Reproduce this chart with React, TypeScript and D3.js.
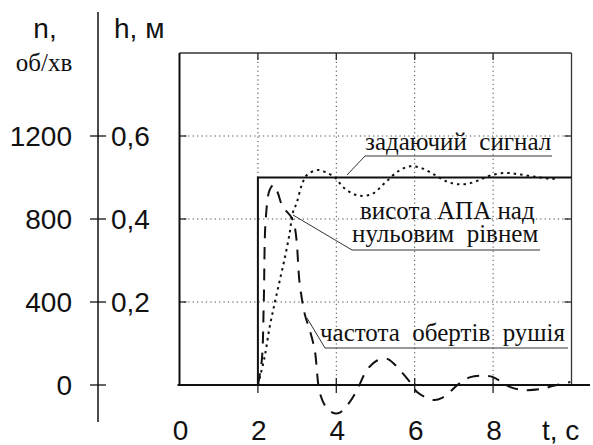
import React from "react";
import * as d3 from "d3";

// Time axis, s
const timeTicks = [0, 2, 4, 6, 8];
// Height axis (м) and revolution axis (об/хв) share the same vertical scale
const heightTicks = [0.2, 0.4, 0.6];
const heightTickLabels = ["0,2", "0,4", "0,6"];
const revTicks = [0, 400, 800, 1200];

// Reference (setpoint) signal, м
const setT = [0, 2, 2, 10];
const setH = [0, 0, 0.5, 0.5];

// Height of the vehicle above zero level, м
const heightT = [2.0, 2.17, 2.3, 2.43, 2.56, 2.69, 2.81, 2.89, 2.99, 3.12, 3.25, 3.53, 3.76, 3.98, 4.17, 4.4, 4.6, 4.91, 5.24, 5.58, 5.88, 6.19, 6.5, 6.8, 7.08, 7.4, 7.7, 7.93, 8.31, 8.7, 9.13, 9.46, 9.6];
const heightH = [0, 0.067, 0.14, 0.198, 0.253, 0.308, 0.366, 0.415, 0.439, 0.482, 0.506, 0.518, 0.511, 0.499, 0.477, 0.462, 0.456, 0.46, 0.487, 0.515, 0.527, 0.522, 0.507, 0.491, 0.484, 0.486, 0.496, 0.505, 0.511, 0.507, 0.501, 0.497, 0.497];

// Propeller revolution frequency, об/хв
const revT = [2.0, 2.1, 2.15, 2.2, 2.3, 2.4, 2.5, 2.63, 2.89, 3.07, 3.2, 3.32, 3.45, 3.58, 3.75, 3.95, 4.1, 4.35, 4.53, 4.78, 5.04, 5.3, 5.45, 5.88, 6.06, 6.47, 6.7, 7.16, 7.42, 7.8, 8.0, 8.44, 8.77, 9.2, 9.54, 9.97];
const revN = [0, 120, 400, 800, 940, 964, 930, 860, 796, 482, 338, 266, 168, -38, -110, -136, -132, -80, -24, 72, 118, 126, 106, 14, -34, -72, -62, 10, 38, 44, 38, -10, -24, -20, -4, 14];

const SANS = "'Liberation Sans', Arial, sans-serif";
const SERIF = "'Liberation Serif', 'Times New Roman', serif";
const NB = "\u00A0";

export default function App() {
  const x = d3.scaleLinear().domain([0, 10]).range([179.5, 571.5]);
  const yH = d3.scaleLinear().domain([0, 0.8]).range([385, 53]);
  const yN = d3.scaleLinear().domain([0, 1600]).range([385, 53]);

  const setLine = d3
    .line<number>()
    .x((_, i) => x(setT[i]))
    .y((_, i) => yH(setH[i]))(setT);
  const heightLine = d3
    .line<number>()
    .curve(d3.curveCatmullRom.alpha(0.5))
    .x((_, i) => x(heightT[i]))
    .y((_, i) => yH(heightH[i]))(heightT);
  const revLine = d3
    .line<number>()
    .curve(d3.curveCatmullRom.alpha(0.5))
    .x((_, i) => x(revT[i]))
    .y((_, i) => yN(revN[i]))(revT);

  const x0 = x(0);
  const x1 = x(10);
  const yTop = yH(0.8);
  const yBase = yH(0);
  const axisX = 98;

  return (
    <svg
      width={593}
      height={445}
      style={{ position: "absolute", left: 0, top: 0, background: "#fff" }}
    >
      <rect width={593} height={445} fill="#fff" />

      {/* dotted grid */}
      <g stroke="#444" strokeWidth={1} strokeDasharray="1.2,3.2">
        {heightTicks.map((v) => (
          <line key={"h" + v} x1={x0} x2={x1} y1={yH(v)} y2={yH(v)} />
        ))}
        {timeTicks.filter((t) => t > 0).map((t) => (
          <line key={"v" + t} x1={x(t)} x2={x(t)} y1={yTop} y2={yBase} />
        ))}
      </g>

      {/* inner ticks on the frame */}
      <g stroke="#222" strokeWidth={1.3}>
        {heightTicks.map((v) => (
          <g key={"ft" + v}>
            <line x1={x0} x2={x0 + 7} y1={yH(v)} y2={yH(v)} />
            <line x1={x1 - 7} x2={x1} y1={yH(v)} y2={yH(v)} />
          </g>
        ))}
        {timeTicks.filter((t) => t > 0).map((t) => (
          <g key={"tt" + t}>
            <line x1={x(t)} x2={x(t)} y1={yTop} y2={yTop + 7} />
            <line x1={x(t)} x2={x(t)} y1={yBase - 7} y2={yBase + 8} />
          </g>
        ))}
      </g>

      {/* frame */}
      <line x1={x0} x2={x1} y1={yTop} y2={yTop} stroke="#333" strokeWidth={1.3} />
      <line x1={x1} x2={x1} y1={yTop} y2={yBase} stroke="#333" strokeWidth={1.3} />
      <line x1={x0} x2={x0} y1={yTop} y2={yBase} stroke="#111" strokeWidth={2} />
      <line x1={x0 - 2} x2={590} y1={yBase} y2={yBase} stroke="#111" strokeWidth={2} />

      {/* series */}
      <path d={setLine ?? ""} fill="none" stroke="#111" strokeWidth={2} />
      <path
        d={heightLine ?? ""}
        fill="none"
        stroke="#111"
        strokeWidth={2}
        strokeDasharray="2.5,4"
      />
      <path
        d={revLine ?? ""}
        fill="none"
        stroke="#111"
        strokeWidth={2}
        strokeDasharray="12,9"
      />

      {/* left double axis */}
      <line x1={axisX} x2={axisX} y1={12} y2={422} stroke="#111" strokeWidth={1.5} />
      <g stroke="#111" strokeWidth={1.3}>
        {revTicks.map((n) => (
          <line key={"lt" + n} x1={axisX - 8} x2={axisX + 8} y1={yN(n)} y2={yN(n)} />
        ))}
      </g>
      <g fontFamily={SANS} fontSize={28} fill="#111">
        {revTicks.map((n) => (
          <text key={"ln" + n} x={72} y={yN(n) + 10} textAnchor="end">
            {n}
          </text>
        ))}
        {heightTicks.map((v, i) => (
          <text key={"lh" + v} x={111} y={yH(v) + 10}>
            {heightTickLabels[i]}
          </text>
        ))}
        {timeTicks.map((t) => (
          <text key={"bt" + t} x={x(t) + 1} y={440} textAnchor="middle">
            {t}
          </text>
        ))}
        <text x={542} y={440}>
          t, с
        </text>
        <text x={45} y={38} textAnchor="middle">
          n,
        </text>
        <text x={114} y={38}>
          h, м
        </text>
      </g>
      <text x={44} y={71} textAnchor="middle" fontFamily={SERIF} fontSize={25} fill="#111">
        об/хв
      </text>

      {/* annotation leaders */}
      <g fill="none" stroke="#333" strokeWidth={1}>
        <polyline points="347,175 365,156 552,156" />
        <polyline points="293,215 352,250 540,250" />
        <polyline points="307,318 325,348 568,348" />
      </g>
      <g fontFamily={SERIF} fontSize={25} fill="#111">
        <text x={365} y={150}>{`задаючий${NB} сигнал`}</text>
        <text x={360} y={219}>висота АПА над</text>
        <text x={352} y={242}>{`нульовим${NB} рівнем`}</text>
        <text x={320} y={341}>{`частота${NB} обертів${NB} рушія`}</text>
      </g>
    </svg>
  );
}
